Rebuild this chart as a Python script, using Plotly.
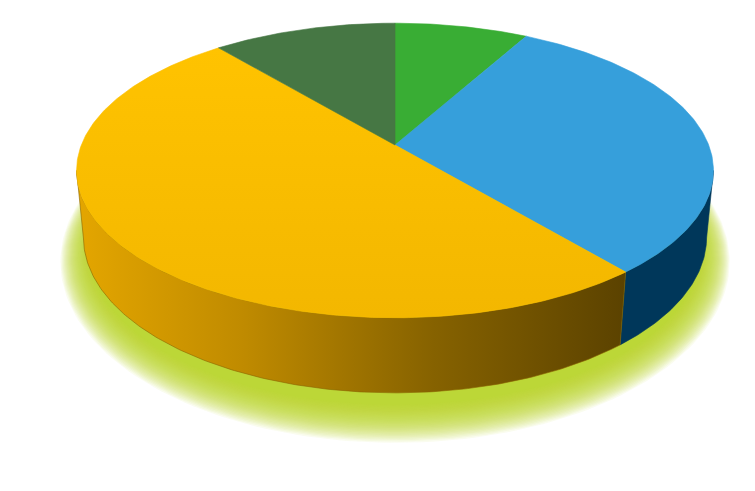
import numpy as np
import plotly.graph_objects as go

# ---- data (clockwise from 12 o'clock) ----
slice_names = ["Light green", "Blue", "Yellow", "Dark green"]
slice_values = [8, 31, 50, 11]

# ---- styles ----
top_colors = ["#39ad34", "#369fdb", "#fdc000", "#467744"]
side_colors = ["#237a20", "#00375a", None, "#2b4d2a"]
yellow_side_scale = [[0, "#e4a600"], [0.3, "#c08b00"], [0.65, "#866200"], [1, "#5b4200"]]
yellow_top_scale = [[0, "#f3b700"], [1, "#ffc300"]]

# ---- view (perspective camera) ----
F, D, PHI, H = 1615.0, 5.149, np.radians(27.1), 0.2415
CX, CY = 395.0, 145.0
S, C = np.sin(PHI), np.cos(PHI)


def proj(X, Z, Y):
    depth = D + C * Z - S * Y
    up = C * Y + S * Z
    return CX + F * X / depth, CY - F * up / depth


def arc(a0, a1, r=1.0, Y=0.0, n=None, rz=None):
    n = n or max(8, int(abs(a1 - a0) * 1.5))
    rz = r if rz is None else rz
    a = np.radians(np.linspace(a0, a1, n))
    return proj(r * np.sin(a), rz * np.cos(a), np.full_like(a, Y))


fig = go.Figure()

# ---- soft glow beneath the pie ----
for t in np.linspace(1.0, -0.2, 30):
    gx, gy = arc(0, 360, r=1 + 0.075 * t, rz=1 + 0.14 * t, Y=-H - 0.06, n=240)
    fig.add_trace(go.Scatter(x=gx, y=gy, fill="toself", mode="lines",
                             line=dict(width=0),
                             fillcolor="rgba(186,211,36,0.075)",
                             hoverinfo="skip", showlegend=False))

total = float(sum(slice_values))
bounds = np.concatenate([[0], np.cumsum(slice_values) / total * 360.0])
a_w = np.degrees(np.arccos(-C / D))  # silhouette angles
vis0, vis1 = a_w, 360 - a_w

# ---- side walls ----
for i, name in enumerate(slice_names):
    a0, a1 = max(bounds[i], vis0), min(bounds[i + 1], vis1)
    if a1 <= a0:
        continue
    tx, ty = arc(a0, a1)
    bx, by = arc(a0, a1, Y=-H)
    xs = np.concatenate([tx, bx[::-1], tx[:1]])
    ys = np.concatenate([ty, by[::-1], ty[:1]])
    kw = {}
    if side_colors[i] is None:
        kw["fillgradient"] = dict(type="horizontal", colorscale=yellow_side_scale)
        lc = "#8a6400"
    else:
        kw["fillcolor"] = side_colors[i]
        lc = side_colors[i]
    fig.add_trace(go.Scatter(x=xs, y=ys, fill="toself", mode="lines",
                             line=dict(width=0.6, color=lc), name=name,
                             hoverinfo="skip", showlegend=False, **kw))

# ---- top faces ----
vx, vy = proj(0.0, 0.0, 0.0)
for i, name in enumerate(slice_names):
    tx, ty = arc(bounds[i], bounds[i + 1])
    xs = np.concatenate([[vx], tx, [vx]])
    ys = np.concatenate([[vy], ty, [vy]])
    kw = {}
    if i == 2:
        kw["fillgradient"] = dict(type="vertical", colorscale=yellow_top_scale)
    else:
        kw["fillcolor"] = top_colors[i]
    fig.add_trace(go.Scatter(x=xs, y=ys, fill="toself", mode="lines",
                             line=dict(width=0.6, color=top_colors[i]), name=name,
                             hoverinfo="skip", showlegend=False, **kw))

fig.update_layout(
    width=755, height=491,
    margin=dict(l=0, r=0, t=0, b=0),
    paper_bgcolor="white", plot_bgcolor="white",
    xaxis=dict(range=[0, 755], visible=False, fixedrange=True),
    yaxis=dict(range=[491, 0], visible=False, fixedrange=True),
    showlegend=False,
)

fig.write_html(
    "out.html",
    config={"displayModeBar": False},
    post_script="document.body.style.margin='0px';document.body.style.overflow='hidden';",
)
